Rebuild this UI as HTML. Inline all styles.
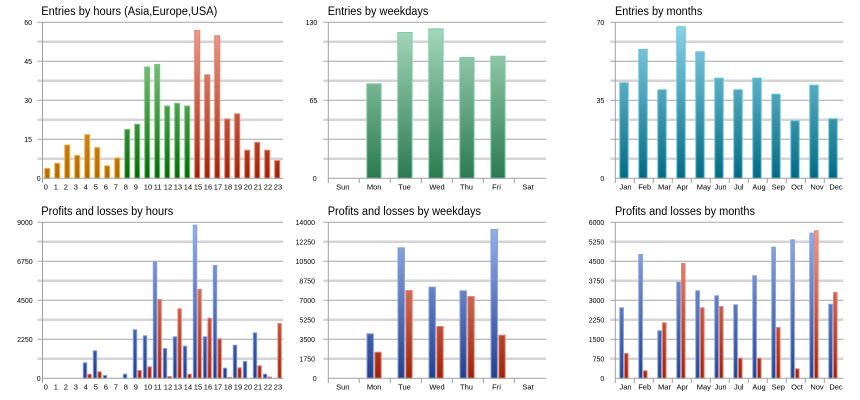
<!DOCTYPE html>
<html><head><meta charset="utf-8"><style>
html,body{margin:0;padding:0;background:#fff;}
svg{display:block;font-family:"Liberation Sans",Arial,sans-serif;}
.t{font-size:11.5px;fill:#000;}
.yl{font-size:7px;fill:#000;text-anchor:end;}
.xl{font-size:7.5px;fill:#000;}
.xc{font-size:7.5px;fill:#000;text-anchor:middle;}
.dk{stroke:#a6a6a6;stroke-width:1;}
.lt{stroke:#d4d4d4;stroke-width:2.5;}
.ax{stroke:#a0a0a0;stroke-width:1;fill:none;}
</style></head><body>
<svg width="860" height="400" viewBox="0 0 860 400" xmlns="http://www.w3.org/2000/svg">
<defs>
<linearGradient id="gO" gradientUnits="userSpaceOnUse" x1="0" y1="22.3" x2="0" y2="178.3"><stop offset="0" stop-color="#f6c46c"/><stop offset="1" stop-color="#b06c04"/></linearGradient>
<linearGradient id="gG" gradientUnits="userSpaceOnUse" x1="0" y1="22.3" x2="0" y2="178.3"><stop offset="0" stop-color="#a0daa0"/><stop offset="1" stop-color="#086808"/></linearGradient>
<linearGradient id="gR" gradientUnits="userSpaceOnUse" x1="0" y1="22.3" x2="0" y2="178.3"><stop offset="0" stop-color="#eea494"/><stop offset="1" stop-color="#9c2408"/></linearGradient>
<linearGradient id="gW" gradientUnits="userSpaceOnUse" x1="0" y1="22.3" x2="0" y2="178.3"><stop offset="0" stop-color="#a8dcc0"/><stop offset="1" stop-color="#2c7a50"/></linearGradient>
<linearGradient id="gT" gradientUnits="userSpaceOnUse" x1="0" y1="22.3" x2="0" y2="178.3"><stop offset="0" stop-color="#90d4ea"/><stop offset="1" stop-color="#046a82"/></linearGradient>
<linearGradient id="gB" gradientUnits="userSpaceOnUse" x1="0" y1="222.3" x2="0" y2="378.3"><stop offset="0" stop-color="#9cb4ec"/><stop offset="1" stop-color="#243f8c"/></linearGradient>
<linearGradient id="gR2" gradientUnits="userSpaceOnUse" x1="0" y1="222.3" x2="0" y2="378.3"><stop offset="0" stop-color="#f0a494"/><stop offset="1" stop-color="#9c2408"/></linearGradient>
</defs>
<rect width="860" height="400" fill="#fff"/>

<!-- Titles -->
<text class="t" x="41.3" y="15" textLength="176" lengthAdjust="spacingAndGlyphs">Entries by hours (Asia,Europe,USA)</text>
<text class="t" x="327.7" y="15" textLength="100.7" lengthAdjust="spacingAndGlyphs">Entries by weekdays</text>
<text class="t" x="615" y="15" textLength="87.3" lengthAdjust="spacingAndGlyphs">Entries by months</text>
<text class="t" x="41.3" y="215" textLength="132" lengthAdjust="spacingAndGlyphs">Profits and losses by hours</text>
<text class="t" x="327.7" y="215" textLength="153.3" lengthAdjust="spacingAndGlyphs">Profits and losses by weekdays</text>
<text class="t" x="615" y="215" textLength="140" lengthAdjust="spacingAndGlyphs">Profits and losses by months</text>

<!-- Gridlines row 1 -->
<g>
<line class="dk" x1="37.5" x2="283" y1="22.3" y2="22.3"/><line class="lt" x1="37.5" x2="283" y1="41.8" y2="41.8"/>
<line class="dk" x1="37.5" x2="283" y1="61.3" y2="61.3"/><line class="lt" x1="37.5" x2="283" y1="80.8" y2="80.8"/>
<line class="dk" x1="37.5" x2="283" y1="100.3" y2="100.3"/><line class="lt" x1="37.5" x2="283" y1="119.8" y2="119.8"/>
<line class="dk" x1="37.5" x2="283" y1="139.3" y2="139.3"/><line class="lt" x1="37.5" x2="283" y1="158.8" y2="158.8"/>

<line class="dk" x1="323.3" x2="546" y1="22.3" y2="22.3"/><line class="lt" x1="323.3" x2="546" y1="41.8" y2="41.8"/>
<line class="dk" x1="323.3" x2="546" y1="61.3" y2="61.3"/><line class="lt" x1="323.3" x2="546" y1="80.8" y2="80.8"/>
<line class="dk" x1="323.3" x2="546" y1="100.3" y2="100.3"/><line class="lt" x1="323.3" x2="546" y1="119.8" y2="119.8"/>
<line class="dk" x1="323.3" x2="546" y1="139.3" y2="139.3"/><line class="lt" x1="323.3" x2="546" y1="158.8" y2="158.8"/>

<line class="dk" x1="610.3" x2="843.3" y1="22.3" y2="22.3"/><line class="lt" x1="610.3" x2="843.3" y1="41.8" y2="41.8"/>
<line class="dk" x1="610.3" x2="843.3" y1="61.3" y2="61.3"/><line class="lt" x1="610.3" x2="843.3" y1="80.8" y2="80.8"/>
<line class="dk" x1="610.3" x2="843.3" y1="100.3" y2="100.3"/><line class="lt" x1="610.3" x2="843.3" y1="119.8" y2="119.8"/>
<line class="dk" x1="610.3" x2="843.3" y1="139.3" y2="139.3"/><line class="lt" x1="610.3" x2="843.3" y1="158.8" y2="158.8"/>
</g>
<!-- Gridlines row 2 -->
<g>
<line class="dk" x1="37.5" x2="283" y1="222.3" y2="222.3"/><line class="lt" x1="37.5" x2="283" y1="241.8" y2="241.8"/>
<line class="dk" x1="37.5" x2="283" y1="261.3" y2="261.3"/><line class="lt" x1="37.5" x2="283" y1="280.8" y2="280.8"/>
<line class="dk" x1="37.5" x2="283" y1="300.3" y2="300.3"/><line class="lt" x1="37.5" x2="283" y1="319.8" y2="319.8"/>
<line class="dk" x1="37.5" x2="283" y1="339.3" y2="339.3"/><line class="lt" x1="37.5" x2="283" y1="358.8" y2="358.8"/>

<line class="dk" x1="323.3" x2="546" y1="222.3" y2="222.3"/><line class="lt" x1="323.3" x2="546" y1="241.8" y2="241.8"/>
<line class="dk" x1="323.3" x2="546" y1="261.3" y2="261.3"/><line class="lt" x1="323.3" x2="546" y1="280.8" y2="280.8"/>
<line class="dk" x1="323.3" x2="546" y1="300.3" y2="300.3"/><line class="lt" x1="323.3" x2="546" y1="319.8" y2="319.8"/>
<line class="dk" x1="323.3" x2="546" y1="339.3" y2="339.3"/><line class="lt" x1="323.3" x2="546" y1="358.8" y2="358.8"/>

<line class="dk" x1="610.3" x2="843.3" y1="222.3" y2="222.3"/><line class="lt" x1="610.3" x2="843.3" y1="241.8" y2="241.8"/>
<line class="dk" x1="610.3" x2="843.3" y1="261.3" y2="261.3"/><line class="lt" x1="610.3" x2="843.3" y1="280.8" y2="280.8"/>
<line class="dk" x1="610.3" x2="843.3" y1="300.3" y2="300.3"/><line class="lt" x1="610.3" x2="843.3" y1="319.8" y2="319.8"/>
<line class="dk" x1="610.3" x2="843.3" y1="339.3" y2="339.3"/><line class="lt" x1="610.3" x2="843.3" y1="358.8" y2="358.8"/>
</g>

<!-- P1 bars -->
<g fill="url(#gO)" stroke="#f8b040" stroke-width="1">
<rect x="44.7" y="168.4" width="5" height="9.9"/>
<rect x="54.7" y="163.2" width="5" height="15.1"/>
<rect x="64.7" y="145" width="5" height="33.3"/>
<rect x="74.7" y="155.4" width="5" height="22.9"/>
<rect x="84.7" y="134.6" width="5" height="43.7"/>
<rect x="94.7" y="147.6" width="5" height="30.7"/>
<rect x="104.7" y="165.8" width="5" height="12.5"/>
<rect x="114.7" y="158" width="5" height="20.3"/>
</g>
<g fill="url(#gG)" stroke="#78c878" stroke-width="1">
<rect x="124.7" y="129.4" width="5" height="48.9"/>
<rect x="134.7" y="124.2" width="5" height="54.1"/>
<rect x="144.7" y="67" width="5" height="111.3"/>
<rect x="154.7" y="64.4" width="5" height="113.9"/>
<rect x="164.7" y="106" width="5" height="72.3"/>
<rect x="174.7" y="103.4" width="5" height="74.9"/>
<rect x="184.7" y="106" width="5" height="72.3"/>
</g>
<g fill="url(#gR)" stroke="#ec7c68" stroke-width="1">
<rect x="194.7" y="30.6" width="5" height="147.7"/>
<rect x="204.7" y="74.8" width="5" height="103.5"/>
<rect x="214.7" y="35.8" width="5" height="142.5"/>
<rect x="224.7" y="119" width="5" height="59.3"/>
<rect x="234.7" y="113.8" width="5" height="64.5"/>
<rect x="244.7" y="150.2" width="5" height="28.1"/>
<rect x="254.7" y="142.4" width="5" height="35.9"/>
<rect x="264.7" y="150.2" width="5" height="28.1"/>
<rect x="274.7" y="160.6" width="5" height="17.7"/>
</g>

<!-- P2 bars -->
<g fill="url(#gB)" stroke="#7c9ce4" stroke-width="1">
<rect x="83.3" y="362.8" width="3.4" height="15.5"/>
<rect x="93.3" y="350.8" width="3.4" height="27.5"/>
<rect x="103.3" y="375.5" width="3.4" height="2.8"/>
<rect x="123.3" y="374.2" width="3.4" height="4.1"/>
<rect x="133.3" y="329.8" width="3.4" height="48.5"/>
<rect x="143.3" y="335.8" width="3.4" height="42.5"/>
<rect x="153.3" y="261.8" width="3.4" height="116.5"/>
<rect x="163.3" y="348.5" width="3.4" height="29.8"/>
<rect x="173.3" y="336.8" width="3.4" height="41.5"/>
<rect x="183.3" y="346.2" width="3.4" height="32.1"/>
<rect x="193.3" y="225.2" width="3.4" height="153.1"/>
<rect x="203.3" y="336.8" width="3.4" height="41.5"/>
<rect x="213.3" y="265.5" width="3.4" height="112.8"/>
<rect x="223.3" y="368.2" width="3.4" height="10.1"/>
<rect x="233.3" y="345.2" width="3.4" height="33.1"/>
<rect x="243.3" y="361.5" width="3.4" height="16.8"/>
<rect x="253.3" y="332.8" width="3.4" height="45.5"/>
<rect x="263.3" y="374.2" width="3.4" height="4.1"/>
</g>
<g fill="url(#gR2)" stroke="#f08070" stroke-width="1">
<rect x="87.9" y="374.2" width="3.4" height="4.1"/>
<rect x="97.9" y="371.8" width="3.4" height="6.5"/>
<rect x="137.9" y="370.5" width="3.4" height="7.8"/>
<rect x="147.9" y="366.8" width="3.4" height="11.5"/>
<rect x="157.9" y="299.5" width="3.4" height="78.8"/>
<rect x="167.9" y="376.5" width="3.4" height="1.8"/>
<rect x="177.9" y="308.8" width="3.4" height="69.5"/>
<rect x="187.9" y="374.2" width="3.4" height="4.1"/>
<rect x="197.9" y="289.5" width="3.4" height="88.8"/>
<rect x="207.9" y="318.2" width="3.4" height="60.1"/>
<rect x="217.9" y="338.8" width="3.4" height="39.5"/>
<rect x="227.9" y="377.3" width="3.4" height="1"/>
<rect x="237.9" y="367.8" width="3.4" height="10.5"/>
<rect x="257.9" y="365.8" width="3.4" height="12.5"/>
<rect x="267.9" y="377" width="3.4" height="1.3"/>
<rect x="277.9" y="323.5" width="3.4" height="54.8"/>
</g>

<!-- P3 bars -->
<g fill="url(#gW)" stroke="#7ccfa0" stroke-width="1">
<rect x="366.8" y="83.8" width="14.3" height="94.5"/>
<rect x="397.8" y="32.5" width="14.3" height="145.8"/>
<rect x="428.8" y="28.8" width="14.3" height="149.5"/>
<rect x="459.8" y="57.5" width="14.3" height="120.8"/>
<rect x="490.8" y="56.2" width="14.3" height="122.1"/>
</g>

<!-- P4 bars -->
<g fill="url(#gB)" stroke="#7c9ce4" stroke-width="1">
<rect x="367" y="333.8" width="6.4" height="44.5"/>
<rect x="398" y="247.8" width="6.4" height="130.5"/>
<rect x="429" y="287.2" width="6.4" height="91.1"/>
<rect x="460" y="290.8" width="6.4" height="87.5"/>
<rect x="491" y="229.5" width="6.4" height="148.8"/>
</g>
<g fill="url(#gR2)" stroke="#f08070" stroke-width="1">
<rect x="374.8" y="352.2" width="6.4" height="26.1"/>
<rect x="405.8" y="290.5" width="6.4" height="87.8"/>
<rect x="436.8" y="326.5" width="6.4" height="51.8"/>
<rect x="467.8" y="296.5" width="6.4" height="81.8"/>
<rect x="498.8" y="335.2" width="6.4" height="43.1"/>
</g>

<!-- P5 bars -->
<g fill="url(#gT)" stroke="#5cc4e0" stroke-width="1">
<rect x="619.8" y="82.8" width="8.4" height="95.5"/>
<rect x="638.8" y="49.5" width="8.4" height="128.8"/>
<rect x="657.8" y="89.8" width="8.4" height="88.5"/>
<rect x="676.8" y="26.8" width="8.4" height="151.5"/>
<rect x="695.8" y="51.8" width="8.4" height="126.5"/>
<rect x="714.8" y="78.2" width="8.4" height="100.1"/>
<rect x="733.8" y="89.8" width="8.4" height="88.5"/>
<rect x="752.8" y="78.2" width="8.4" height="100.1"/>
<rect x="771.8" y="94.2" width="8.4" height="84.1"/>
<rect x="790.8" y="120.8" width="8.4" height="57.5"/>
<rect x="809.8" y="85.2" width="8.4" height="93.1"/>
<rect x="828.8" y="118.8" width="8.4" height="59.5"/>
</g>

<!-- P6 bars -->
<g fill="url(#gB)" stroke="#7c9ce4" stroke-width="1">
<rect x="619.8" y="307.8" width="3.6" height="70.5"/>
<rect x="638.8" y="254.5" width="3.6" height="123.8"/>
<rect x="657.8" y="330.8" width="3.6" height="47.5"/>
<rect x="676.8" y="282.2" width="3.6" height="96.1"/>
<rect x="695.8" y="290.8" width="3.6" height="87.5"/>
<rect x="714.8" y="295.8" width="3.6" height="82.5"/>
<rect x="733.8" y="304.8" width="3.6" height="73.5"/>
<rect x="752.8" y="275.8" width="3.6" height="102.5"/>
<rect x="771.8" y="247.2" width="3.6" height="131.1"/>
<rect x="790.8" y="239.8" width="3.6" height="138.5"/>
<rect x="809.8" y="233.2" width="3.6" height="145.1"/>
<rect x="828.8" y="304.2" width="3.6" height="74.1"/>
</g>
<g fill="url(#gR2)" stroke="#f08070" stroke-width="1">
<rect x="624.5" y="353.5" width="3.6" height="24.8"/>
<rect x="643.5" y="370.8" width="3.6" height="7.5"/>
<rect x="662.5" y="322.8" width="3.6" height="55.5"/>
<rect x="681.5" y="263.5" width="3.6" height="114.8"/>
<rect x="700.5" y="307.8" width="3.6" height="70.5"/>
<rect x="719.5" y="306.5" width="3.6" height="71.8"/>
<rect x="738.5" y="358.2" width="3.6" height="20.1"/>
<rect x="757.5" y="358.2" width="3.6" height="20.1"/>
<rect x="776.5" y="327.5" width="3.6" height="50.8"/>
<rect x="795.5" y="368.8" width="3.6" height="9.5"/>
<rect x="814.5" y="230.8" width="3.6" height="147.5"/>
<rect x="833.5" y="292.5" width="3.6" height="85.8"/>
</g>

<!-- Axes -->
<g class="ax">
<line x1="42.5" y1="22.3" x2="42.5" y2="183"/><line x1="42.5" y1="178.3" x2="283" y2="178.3"/>
<line x1="42.5" y1="222.3" x2="42.5" y2="383"/><line x1="42.5" y1="378.3" x2="283" y2="378.3"/>

<line x1="328.3" y1="22.3" x2="328.3" y2="183"/><line x1="328.3" y1="178.3" x2="546" y2="178.3"/>
<path d="M359.3 178.3V183M390.3 178.3V183M421.3 178.3V183M452.3 178.3V183M483.3 178.3V183M514.3 178.3V183"/>
<line x1="328.3" y1="222.3" x2="328.3" y2="383"/><line x1="328.3" y1="378.3" x2="546" y2="378.3"/>
<path d="M359.3 378.3V383M390.3 378.3V383M421.3 378.3V383M452.3 378.3V383M483.3 378.3V383M514.3 378.3V383"/>

<line x1="615.3" y1="22.3" x2="615.3" y2="183"/><line x1="615.3" y1="178.3" x2="843.3" y2="178.3"/>
<path d="M634.3 178.3V183M653.3 178.3V183M672.3 178.3V183M691.3 178.3V183M710.3 178.3V183M729.3 178.3V183M748.3 178.3V183M767.3 178.3V183M786.3 178.3V183M805.3 178.3V183M824.3 178.3V183"/>
<line x1="615.3" y1="222.3" x2="615.3" y2="383"/><line x1="615.3" y1="378.3" x2="843.3" y2="378.3"/>
<path d="M634.3 378.3V383M653.3 378.3V383M672.3 378.3V383M691.3 378.3V383M710.3 378.3V383M729.3 378.3V383M748.3 378.3V383M767.3 378.3V383M786.3 378.3V383M805.3 378.3V383M824.3 378.3V383"/>
</g>

<!-- Y labels -->
<g class="yl">
<text x="32" y="25">60</text><text x="32" y="64">45</text><text x="32" y="103">30</text><text x="32" y="142">15</text><text x="40.7" y="181">0</text>
<text x="32.7" y="225">9000</text><text x="32.7" y="264">6750</text><text x="32.7" y="303">4500</text><text x="32.7" y="342">2250</text><text x="40.7" y="381">0</text>

<text x="317.3" y="25">130</text><text x="317.3" y="103">65</text><text x="316.7" y="181">0</text>
<text x="315" y="225">14000</text><text x="315" y="244.5">12250</text><text x="315" y="264">10500</text><text x="315" y="283.5">8750</text><text x="315" y="303">7000</text><text x="315" y="322.5">5250</text><text x="315" y="342">3500</text><text x="315" y="361.5">1750</text><text x="316.7" y="381">0</text>

<text x="604.3" y="25">70</text><text x="604.3" y="103">35</text><text x="604.3" y="181">0</text>
<text x="604.3" y="225">6000</text><text x="604.3" y="244.5">5250</text><text x="604.3" y="264">4500</text><text x="604.3" y="283.5">3750</text><text x="604.3" y="303">3000</text><text x="604.3" y="322.5">2250</text><text x="604.3" y="342">1500</text><text x="604.3" y="361.5">750</text><text x="604.3" y="381">0</text>
</g>

<!-- X labels P1 -->
<g class="xl">
<text x="43.8" y="189.5">0</text><text x="53.8" y="189.5">1</text><text x="63.8" y="189.5">2</text><text x="73.8" y="189.5">3</text><text x="83.8" y="189.5">4</text><text x="93.8" y="189.5">5</text><text x="103.8" y="189.5">6</text><text x="113.8" y="189.5">7</text><text x="123.8" y="189.5">8</text><text x="133.8" y="189.5">9</text><text x="143.8" y="189.5">10</text><text x="153.8" y="189.5">11</text><text x="163.8" y="189.5">12</text><text x="173.8" y="189.5">13</text><text x="183.8" y="189.5">14</text><text x="193.8" y="189.5">15</text><text x="203.8" y="189.5">16</text><text x="213.8" y="189.5">17</text><text x="223.8" y="189.5">18</text><text x="233.8" y="189.5">19</text><text x="243.8" y="189.5">20</text><text x="253.8" y="189.5">21</text><text x="263.8" y="189.5">22</text><text x="273.8" y="189.5">23</text>
<text x="43.8" y="389.5">0</text><text x="53.8" y="389.5">1</text><text x="63.8" y="389.5">2</text><text x="73.8" y="389.5">3</text><text x="83.8" y="389.5">4</text><text x="93.8" y="389.5">5</text><text x="103.8" y="389.5">6</text><text x="113.8" y="389.5">7</text><text x="123.8" y="389.5">8</text><text x="133.8" y="389.5">9</text><text x="143.8" y="389.5">10</text><text x="153.8" y="389.5">11</text><text x="163.8" y="389.5">12</text><text x="173.8" y="389.5">13</text><text x="183.8" y="389.5">14</text><text x="193.8" y="389.5">15</text><text x="203.8" y="389.5">16</text><text x="213.8" y="389.5">17</text><text x="223.8" y="389.5">18</text><text x="233.8" y="389.5">19</text><text x="243.8" y="389.5">20</text><text x="253.8" y="389.5">21</text><text x="263.8" y="389.5">22</text><text x="273.8" y="389.5">23</text>
</g>
<g class="xc">
<text x="342.8" y="189.5">Sun</text><text x="374.2" y="189.5">Mon</text><text x="404.5" y="189.5">Tue</text><text x="437" y="189.5">Wed</text><text x="466.5" y="189.5">Thu</text><text x="496.5" y="189.5">Fri</text><text x="528" y="189.5">Sat</text>
<text x="342.8" y="389.5">Sun</text><text x="374.2" y="389.5">Mon</text><text x="404.5" y="389.5">Tue</text><text x="437" y="389.5">Wed</text><text x="466.5" y="389.5">Thu</text><text x="496.5" y="389.5">Fri</text><text x="528" y="389.5">Sat</text>

<text x="625.5" y="189.5">Jan</text><text x="644.7" y="189.5">Feb</text><text x="664.5" y="189.5">Mar</text><text x="682.3" y="189.5">Apr</text><text x="703.8" y="189.5">May</text><text x="720.5" y="189.5">Jun</text><text x="738.8" y="189.5">Jul</text><text x="759" y="189.5">Aug</text><text x="778.3" y="189.5">Sep</text><text x="797" y="189.5">Oct</text><text x="817" y="189.5">Nov</text><text x="836" y="189.5">Dec</text>
<text x="625.5" y="389.5">Jan</text><text x="644.7" y="389.5">Feb</text><text x="664.5" y="389.5">Mar</text><text x="682.3" y="389.5">Apr</text><text x="703.8" y="389.5">May</text><text x="720.5" y="389.5">Jun</text><text x="738.8" y="389.5">Jul</text><text x="759" y="389.5">Aug</text><text x="778.3" y="389.5">Sep</text><text x="797" y="389.5">Oct</text><text x="817" y="389.5">Nov</text><text x="836" y="389.5">Dec</text>
</g>
</svg>
</body></html>
